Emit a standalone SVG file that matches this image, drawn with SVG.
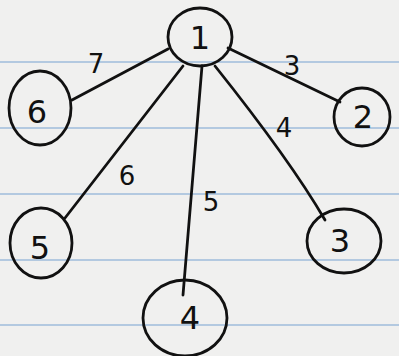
<svg xmlns="http://www.w3.org/2000/svg" width="399" height="356" viewBox="0 0 399 356">
<style>
.rule{stroke:#b3c9e0;stroke-width:2;fill:none}
.node ellipse{fill:none;stroke:#111;stroke-width:2.8}
.edge{fill:none;stroke:#111;stroke-width:2.8;stroke-linecap:round}
text{font-family:"DejaVu Sans","Liberation Sans",sans-serif;font-size:32px;fill:#111;text-anchor:middle;dominant-baseline:central}
.w{font-size:26px}
</style>
<rect width="399" height="356" fill="#f0f0ef"/>
<g id="paper">
<line class="rule" x1="0" y1="62" x2="399" y2="62"/>
<line class="rule" x1="0" y1="128" x2="399" y2="128"/>
<line class="rule" x1="0" y1="194" x2="399" y2="194"/>
<line class="rule" x1="0" y1="260" x2="399" y2="260"/>
<line class="rule" x1="0" y1="325" x2="399" y2="325"/>
</g>
<g id="edges">
<path class="edge" d="M168 49 L72 100"/>
<path class="edge" d="M228 48 L340 102"/>
<path class="edge" d="M183 66 L65 218"/>
<path class="edge" d="M202 66 L183 295"/>
<path class="edge" d="M215 66 Q290 160 325 220"/>
<text class="w" x="96" y="64">7</text>
<text class="w" x="292" y="66">3</text>
<text class="w" x="284" y="128">4</text>
<text class="w" x="127" y="176">6</text>
<text class="w" x="211" y="202">5</text>
</g>
<g id="n1" class="node"><ellipse cx="200" cy="37" rx="32" ry="29"/><text x="200" y="38">1</text></g>
<g id="n6" class="node"><ellipse cx="40" cy="108" rx="31" ry="37"/><text x="37" y="112">6</text></g>
<g id="n2" class="node"><ellipse cx="362" cy="117" rx="28" ry="29"/><text x="363" y="117">2</text></g>
<g id="n5" class="node"><ellipse cx="41" cy="243" rx="31" ry="35"/><text x="40" y="248">5</text></g>
<g id="n3" class="node"><ellipse cx="344" cy="241" rx="37" ry="32"/><text x="340" y="241">3</text></g>
<g id="n4" class="node"><ellipse cx="185" cy="318" rx="42" ry="38"/><text x="190" y="318">4</text></g>
</svg>
